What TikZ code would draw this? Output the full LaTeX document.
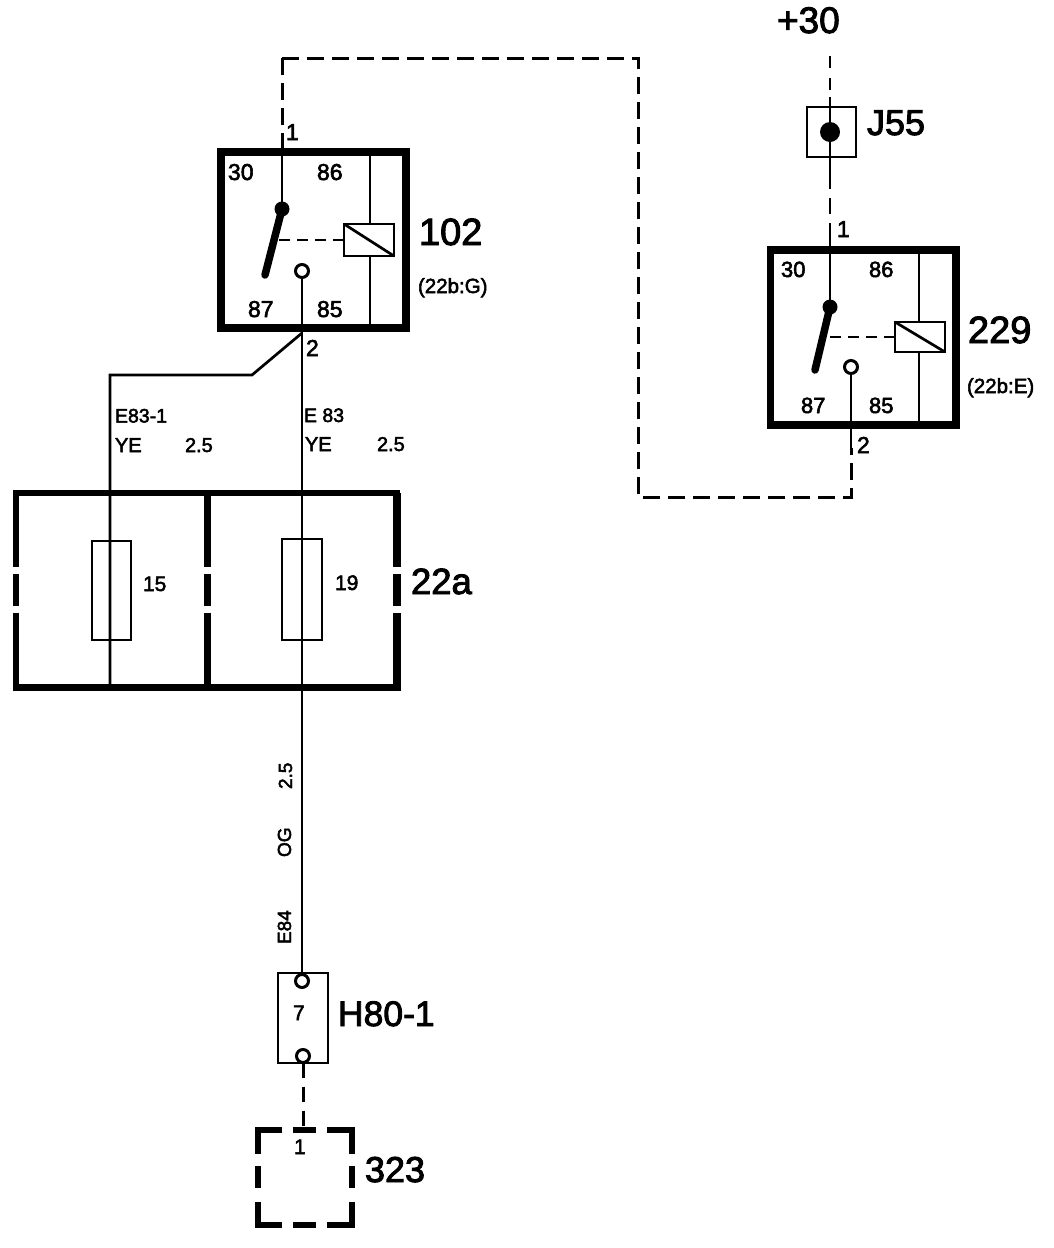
\documentclass[tikz,border=0pt]{standalone}
\usepackage{fontspec}
\setmainfont[FakeBold=2.5]{Liberation Sans}
\tikzset{
  lab/.style={inner sep=0pt,outer sep=0pt,anchor=base west,font=\fontsize{#1}{#1}\selectfont},
  relaybox/.style={draw,line width=7.5pt,inner sep=0pt,outer sep=0pt,rectangle},
  thinbox/.style={draw,line width=2.6pt,inner sep=0pt,outer sep=0pt,rectangle},
  wire/.style={line width=2.7pt},
  dwire/.style={line width=3pt,dash pattern=on 17pt off 8pt},
  contact/.style={circle,draw,fill=white,line width=3pt,minimum size=13pt,inner sep=0pt,outer sep=0pt},
  solidpt/.style={circle,fill=black,inner sep=0pt,outer sep=0pt},
  blade/.style={line width=7.5pt,line cap=round},
}
\begin{document}
\begin{tikzpicture}[x=1pt,y=-1pt]
\path[use as bounding box,fill=white] (0,0) rectangle (1054,1248);

% ---- relay 102
\node[relaybox,minimum width=185pt,minimum height=176pt] (r102) at (313.5,240) {};
\node[thinbox,minimum width=50pt,minimum height=32pt] (c102) at (369,240) {};
\coordinate (c102t) at (370,152);
\coordinate (c102b) at (370,328);
\draw[wire] (c102t) -- (c102t|-c102.north);
\draw[wire] (c102b) -- (c102b|-c102.south);
\draw[wire] (c102.north west) -- (c102.south east);
\node[solidpt,minimum size=15pt] (p102) at (282,209) {};
\coordinate (b102) at (265,275);
\draw[blade] (p102.center) -- (b102);
\draw[wire,dash pattern=on 11pt off 7pt] (c102.west) -- (278,240);
\node[contact] (o102) at (302,271) {};
\foreach \t/\x/\y in {30/228/180,86/317/180,87/248/317,85/317/317}
  \node[lab=23] (l102\t) at (\x,\y) {\t};
\node[lab=23] (n1a) at (286,140) {1};
\node[lab=23] (n2a) at (306,356) {2};
\node[lab=38] (t102) at (419,245) {102};
\node[lab=20.5] (s102) at (418,293) {(22b:G)};

% ---- relay 229
\node[relaybox,minimum width=185.5pt,minimum height=175pt] (r229) at (863.25,337.5) {};
\node[thinbox,minimum width=50pt,minimum height=30pt] (c229) at (920,337) {};
\coordinate (c229t) at (919,250);
\coordinate (c229b) at (919,425);
\draw[wire] (c229t) -- (c229t|-c229.north);
\draw[wire] (c229b) -- (c229b|-c229.south);
\draw[wire] (c229.north west) -- (c229.south east);
\node[solidpt,minimum size=15pt] (p229) at (830,307) {};
\coordinate (b229) at (815,370);
\draw[blade] (p229.center) -- (b229);
\draw[wire,dash pattern=on 11pt off 7pt] (c229.west) -- (828,337);
\node[contact] (o229) at (851,367) {};
\foreach \t/\x/\y in {30/781/277,86/869/277,87/801/413,85/869/413}
  \node[lab=22] (l229\t) at (\x,\y) {\t};
\node[lab=23] (n1b) at (837,237) {1};
\node[lab=23] (n2b) at (857,453) {2};
\node[lab=38] (t229) at (968,343) {229};
\node[lab=20.5] (s229) at (967,393) {(22b:E)};

% ---- J55
\node[thinbox,minimum width=49pt,minimum height=50pt] (j55) at (831.5,132) {};
\node[solidpt,minimum size=20pt] (j55d) at (830,132) {};
\node[lab=37] (lp30) at (777,33) {+30};
\node[lab=36] (tj55) at (867,135) {J55};
\coordinate (top) at (830,56);
\coordinate (j55a) at (830,97);
\coordinate (j55b) at (830,173);
\coordinate (r229a) at (830,232);
\draw[dash pattern=on 12pt off 10pt,wire] (top) -- (j55a);
\draw[wire] (j55a) -- (j55d.center) -- (j55b);
\draw[dash pattern=on 16pt off 9pt,wire] (j55b) -- (r229a);
\draw[wire] (r229a) -- (p229.center);

% ---- loop wire
\coordinate (w1) at (282,148);
\coordinate (w2) at (282,58);
\coordinate (w3) at (638,58);
\coordinate (w4) at (638,497);
\coordinate (w5) at (851,497);
\coordinate (w6) at (851,448);
\draw[dwire] (w2) -- (w1);
\draw[dwire] (w2) -- (w3) -- (w4) -- (w5) -- (w6);
\draw[wire] (w6) -- (o229.south);
\draw[wire] (w1) -- (p102.center);

% ---- fuse box 22a
\coordinate (fbnw) at (16,493);
\coordinate (fbne) at (397,493);
\coordinate (fbsw) at (16,687);
\coordinate (fbse) at (397,687);
\draw[line width=6.5pt,line cap=rect] (fbnw) -- (fbne);
\draw[line width=7pt,line cap=rect] (fbsw) -- (fbse);
\foreach \x/\w in {16/5.5,207/7,397/8.5}{
  \draw[line width=\w pt] (\x,493) -- (\x,567);
  \draw[line width=\w pt] (\x,574) -- (\x,606);
  \draw[line width=\w pt] (\x,613) -- (\x,687);
}
\node[thinbox,minimum width=39pt,minimum height=99pt] (f15) at (111.5,590.5) {};
\node[thinbox,minimum width=40pt,minimum height=101pt] (f19) at (302,589.5) {};
\node[lab=21] (l15) at (143,591) {15};
\node[lab=21] (l19) at (335,590) {19};
\node[lab=36.5] (t22a) at (411,594) {22a};

% ---- H80-1
\node[thinbox,minimum width=50pt,minimum height=90pt] (h80) at (303,1018) {};
\node[contact] (h80a) at (302,981) {};
\node[contact] (h80b) at (303,1056) {};
\node[lab=21] (l7) at (293,1020) {7};
\node[lab=35.5] (th80) at (338,1026) {H80-1};

% ---- wires to the fuses and to H80-1
\coordinate (y1) at (302,333);
\coordinate (y2) at (252,375);
\coordinate (y3) at (110,375);
\coordinate (y4) at (110,687);
\draw[wire] (o102.south) -- (y1);
\draw[wire] (y1) -- (y2) -- (y3) -- (y4);
\draw[wire] (y1) -- (h80a.north);

% ---- 323
\coordinate (bnw) at (258,1130);
\coordinate (bne) at (352,1130);
\coordinate (bsw) at (258,1225);
\coordinate (bse) at (352,1225);
\begin{scope}[line width=6.5pt,line cap=butt]
\draw ([xshift=24pt]bnw) -- (bnw) -- ([yshift=-24pt]bnw);
\draw ([xshift=-25pt]bne) -- (bne) -- ([yshift=-24pt]bne);
\draw ([xshift=24pt]bsw) -- (bsw) -- ([yshift=23pt]bsw);
\draw ([xshift=-25pt]bse) -- (bse) -- ([yshift=23pt]bse);
\draw (293,1130) -- (316,1130);
\draw (293,1225) -- (316,1225);
\draw (258,1166) -- (258,1188);
\draw (352,1166) -- (352,1188);
\end{scope}
\node[lab=21] (n1c) at (294,1154) {1};
\node[lab=36] (t323) at (365,1182) {323};
\coordinate (b323t) at (303,1127);
\draw[dash pattern=on 15pt off 9pt,line width=3pt] (h80b.south) -- (b323t);

% ---- wire labels
\node[lab=19.5] (e831) at (115,422.5) {E83-1};
\node[lab=20] (ye1) at (115,452) {YE};
\node[lab=20] (a251) at (185,452) {2.5};
\node[lab=19.5] (e83) at (304,422) {E 83};
\node[lab=20] (ye2) at (305,451) {YE};
\node[lab=20] (a252) at (377,451) {2.5};
\node[lab=19,rotate=90] (a253) at (292,789) {2.5};
\node[lab=19,rotate=90] (og) at (291,857) {OG};
\node[lab=19,rotate=90] (e84) at (291,944) {E84};
\end{tikzpicture}
\end{document}
